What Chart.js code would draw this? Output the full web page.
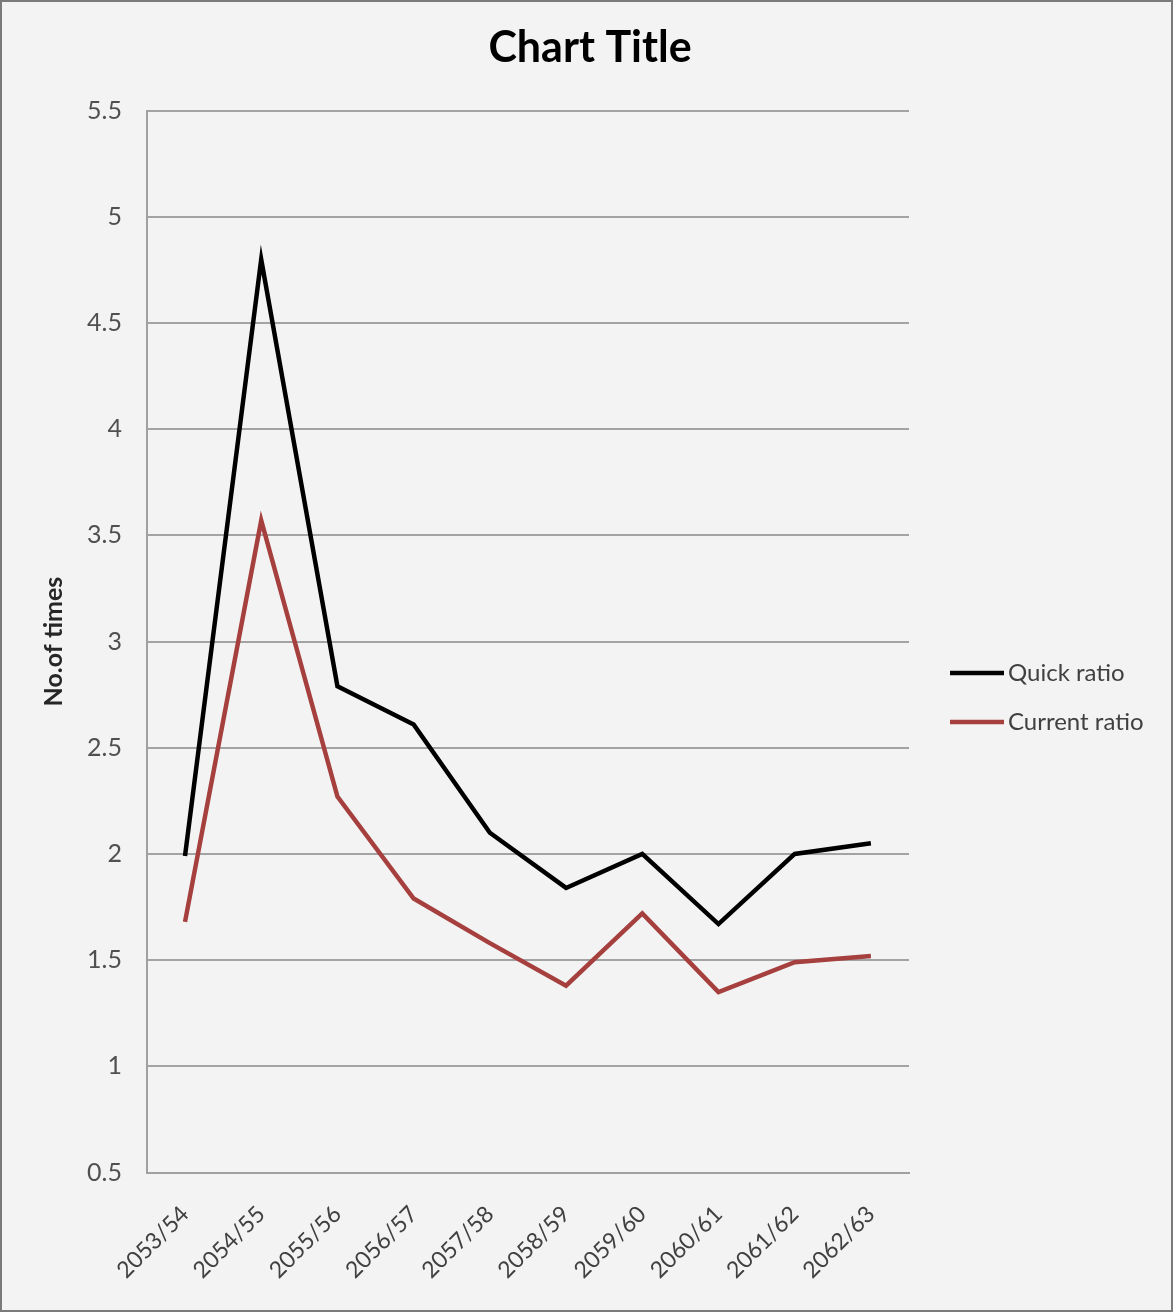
<!DOCTYPE html>
<html>
<head>
<meta charset="utf-8">
<script src="https://cdn.jsdelivr.net/npm/chart.js@4"></script>
<style>
    html, body { margin: 0; padding: 0; background: #f2f2f2; }
    #wrap {
        width: 1173px; height: 1312px; box-sizing: border-box;
        border: 2px solid #7a7a7a; background: #f3f3f3;
    }
    #chart { display: block; }
</style>
</head>
<body>
<div id="wrap"><canvas id="chart" width="1169" height="1308"></canvas></div>
<script>
const years = ['2053/54', '2054/55', '2055/56', '2056/57', '2057/58', '2058/59', '2059/60', '2060/61', '2061/62', '2062/63'];
const quickRatio = [1.99, 4.80, 2.79, 2.61, 2.10, 1.84, 2.00, 1.67, 2.00, 2.05];
const currentRatio = [1.68, 3.57, 2.27, 1.79, 1.58, 1.38, 1.72, 1.35, 1.49, 1.52];

const font = 'Lato, "Open Sans", sans-serif';

// legend to the right of the plot, like the excel one (line + label)
const sideLegend = {
    id: 'sideLegend',
    afterDraw(chart) {
        const ctx = chart.ctx;
        const area = chart.chartArea;
        const x0 = area.right + 41;
        const y0 = 671;
        ctx.save();
        ctx.font = '24px ' + font;
        ctx.textBaseline = 'middle';
        chart.data.datasets.forEach((ds, i) => {
            const y = y0 + i * 49;
            ctx.strokeStyle = ds.borderColor;
            ctx.lineWidth = 4.5;
            ctx.beginPath();
            ctx.moveTo(x0, y);
            ctx.lineTo(x0 + 54, y);
            ctx.stroke();
            ctx.fillStyle = '#404040';
            ctx.fillText(ds.label, x0 + 58, y);
        });
        ctx.restore();
    }
};

new Chart(document.getElementById('chart').getContext('2d'), {
    type: 'line',
    data: {
        labels: years,
        datasets: [{
            label: 'Quick ratio',
            data: quickRatio,
            borderColor: '#000000',
            borderWidth: 4.5,
            pointRadius: 0,
            tension: 0,
            fill: false
        }, {
            label: 'Current ratio',
            data: currentRatio,
            borderColor: '#a5403e',
            borderWidth: 4.5,
            pointRadius: 0,
            tension: 0,
            fill: false
        }]
    },
    options: {
        responsive: false,
        animation: false,
        layout: { padding: { left: 30, right: 23, top: 10, bottom: -2 } },
        plugins: {
            title: {
                display: true,
                text: 'Chart Title',
                color: '#000',
                font: { family: font, size: 43, weight: 'bold' },
                padding: { top: 10, bottom: 37 }
            },
            legend: { display: false },
            tooltip: { enabled: false }
        },
        scales: {
            x: {
                offset: true,
                grid: { display: false, drawTicks: false },
                border: { color: '#a0a0a0', width: 2 },
                ticks: {
                    color: '#404040',
                    font: { family: font, size: 23 },
                    maxRotation: 45,
                    minRotation: 45,
                    padding: 28
                }
            },
            y: {
                min: 0.5,
                max: 5.5,
                grid: { color: '#a3a3a3', lineWidth: 2, drawTicks: false },
                border: { color: '#a0a0a0', width: 2 },
                title: {
                    display: true,
                    text: 'No.of times',
                    color: '#262626',
                    font: { family: font, size: 25, weight: 'bold' },
                    padding: { top: 7, bottom: -7 }
                },
                ticks: {
                    stepSize: 0.5,
                    color: '#505050',
                    font: { family: font, size: 25 },
                    padding: 25,
                    callback: v => String(Number(v.toFixed(1)))
                }
            },
            // empty space on the right that holds the legend
            yRight: {
                type: 'linear',
                axis: 'y',
                position: 'right',
                grid: { display: false },
                border: { display: false },
                ticks: { display: false },
                afterFit: s => { s.width = 239; }
            }
        }
    },
    plugins: [sideLegend]
});
</script>
</body>
</html>
